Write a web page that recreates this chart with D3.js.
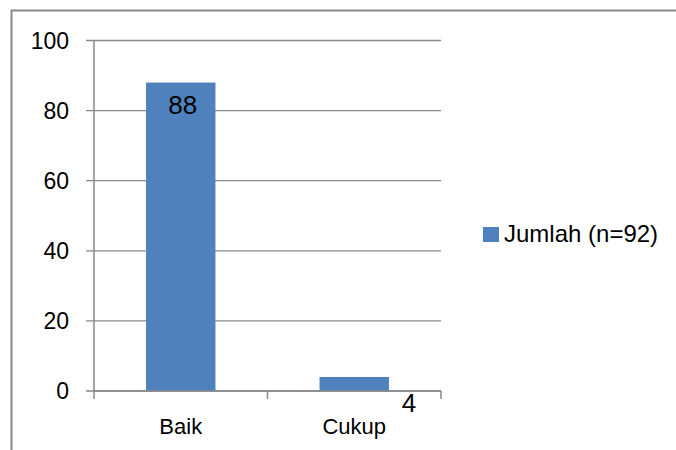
<!DOCTYPE html>
<html><head><meta charset="utf-8">
<script src="https://cdn.jsdelivr.net/npm/d3@7"></script>
<style>body{margin:0;background:#fff}svg{display:block}</style>
</head><body>
<script>
const categories = ["Baik", "Cukup"];
const values = [88, 4];
const yTicks = [0, 20, 40, 60, 80, 100];
const seriesName = "Jumlah (n=92)";

const W = 676, H = 450;
const svg = d3.select("body").append("svg").attr("width", W).attr("height", H);
const font = "'Liberation Sans', Arial, sans-serif";
const gray = "#888888";

// outer frame (cropped on right/bottom)
svg.append("path").attr("d", `M11.5,${H} V10.5 H${W}`)
  .attr("fill", "none").attr("stroke", gray).attr("stroke-width", 2);

const x0 = 94, x1 = 441, yTop = 40.5, yBot = 391;
const x = d3.scaleBand().domain(categories).range([x0, x1]).paddingInner(0.6).paddingOuter(0.3);
const xb = d3.scaleBand().domain(categories).range([x0, x1]);
const y = d3.scaleLinear().domain([0, 100]).range([yBot, yTop]);

// gridlines
svg.append("g").selectAll("line").data(yTicks).join("line")
  .attr("x1", x0 - 8).attr("x2", x1).attr("y1", d => y(d)).attr("y2", d => y(d))
  .attr("stroke", gray).attr("stroke-width", 1.3);

// y axis line
svg.append("line").attr("x1", x0).attr("x2", x0).attr("y1", yTop).attr("y2", yBot)
  .attr("stroke", gray).attr("stroke-width", 1.5);

// y tick labels
svg.append("g").selectAll("text").data(yTicks).join("text")
  .attr("x", 69).attr("y", d => y(d)).attr("dy", "0.36em")
  .attr("text-anchor", "end").attr("font-family", font).attr("font-size", 23)
  .attr("fill", "#000").text(d => d);

// bars
svg.append("g").selectAll("rect").data(values).join("rect")
  .attr("x", (d, i) => x(categories[i])).attr("width", x.bandwidth())
  .attr("y", d => y(d)).attr("height", d => yBot - y(d))
  .attr("fill", "#4F81BD");

// x axis line and ticks
svg.append("line").attr("x1", x0).attr("x2", x1).attr("y1", yBot).attr("y2", yBot)
  .attr("stroke", gray).attr("stroke-width", 1.5);
const tickXs = categories.map(c => xb(c)).concat([x1]);
svg.append("g").selectAll("line").data(tickXs).join("line")
  .attr("x1", d => d).attr("x2", d => d).attr("y1", yBot).attr("y2", yBot + 8)
  .attr("stroke", gray).attr("stroke-width", 1.5);

// category labels
svg.append("g").selectAll("text").data(categories).join("text")
  .attr("x", d => xb(d) + xb.bandwidth() / 2).attr("y", 434)
  .attr("text-anchor", "middle").attr("font-family", font).attr("font-size", 22)
  .attr("fill", "#000").text(d => d);

// data labels
svg.append("g").selectAll("text").data(values).join("text")
  .attr("x", (d, i) => i === 0 ? x(categories[i]) + x.bandwidth() / 2 + 2 : x(categories[i]) + x.bandwidth() + 20)
  .attr("y", (d, i) => i === 0 ? y(d) + 31 : yBot + 21)
  .attr("text-anchor", "middle").attr("font-family", font).attr("font-size", 26)
  .attr("fill", "#000").text(d => d);

// legend
svg.append("rect").attr("x", 483).attr("y", 227).attr("width", 16).attr("height", 15).attr("fill", "#4F81BD");
svg.append("text").attr("x", 504).attr("y", 242).attr("font-family", font).attr("font-size", 24)
  .attr("fill", "#000").text(seriesName);
</script>
</body></html>
